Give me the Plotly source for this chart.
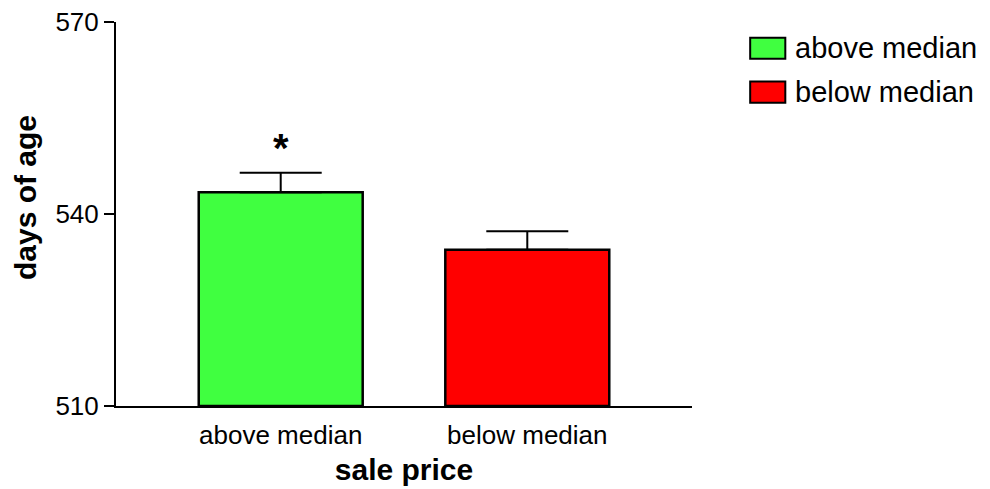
import plotly.graph_objects as go

groups = ["above median", "below median"]
mean_age = [543.4, 534.4]
sem_age = [3.05, 2.9]
colors = ["#40FF40", "#FF0000"]
y_ticks = [510, 540, 570]

font = "Liberation Sans, Arial, sans-serif"

fig = go.Figure()
fig.add_trace(go.Bar(
    x=groups,
    y=[m - 510 for m in mean_age],
    base=510,
    width=0.665,
    marker=dict(color=colors, line=dict(color="black", width=2.5)),
    error_y=dict(type="data", symmetric=False, array=sem_age,
                 arrayminus=[0, 0], color="black", thickness=2, width=41),
    showlegend=False,
))

# significance marker over the first group
fig.add_annotation(x=groups[0], y=mean_age[0] + sem_age[0], text="<b>*</b>",
                   showarrow=False, yanchor="bottom", yshift=1,
                   font=dict(size=40, color="black", family=font))

# y title as an annotation so it can sit closer to the edge
fig.add_annotation(xref="paper", yref="paper", x=-0.156, y=0.542,
                   text="<b>days of age</b>", textangle=-90, showarrow=False,
                   xanchor="center", yanchor="middle",
                   font=dict(size=30, color="black", family=font))

# legend drawn by hand to get the wide swatches
shapes = []
for i, (g, c) in enumerate(zip(groups, colors)):
    top = 0.959 - i * 0.114
    shapes.append(dict(type="rect", xref="paper", yref="paper",
                       x0=1.101, x1=1.162, y0=top - 0.055, y1=top,
                       fillcolor=c, line=dict(color="black", width=2)))
    fig.add_annotation(xref="paper", yref="paper", x=1.176, y=top - 0.0275,
                       text=g, showarrow=False, xanchor="left", yanchor="middle",
                       font=dict(size=29, color="black", family=font))

# page body adds ~8px, so margins are trimmed on the top/left
fig.update_layout(
    width=990, height=489,
    margin=dict(l=108, r=306, t=14, b=91),
    plot_bgcolor="white", paper_bgcolor="white",
    font=dict(family=font, color="black"),
    shapes=shapes,
    bargap=0.3,
)
fig.update_xaxes(
    range=[-0.668, 1.668], showline=True, linecolor="black", linewidth=2,
    ticks="outside", ticklen=5, tickcolor="rgba(0,0,0,0)",
    showgrid=False, tickfont=dict(size=26), automargin=False,
    title=dict(text="<b>sale price</b>", font=dict(size=30), standoff=10),
)
fig.update_yaxes(
    range=[510, 570], tickvals=y_ticks, showline=True, linecolor="black",
    linewidth=2, ticks="outside", ticklen=10, tickwidth=2, tickcolor="black",
    showgrid=False, zeroline=False, tickfont=dict(size=26), automargin=False,
    ticklabeloverflow="allow",
)

fig.write_html("out.html")
